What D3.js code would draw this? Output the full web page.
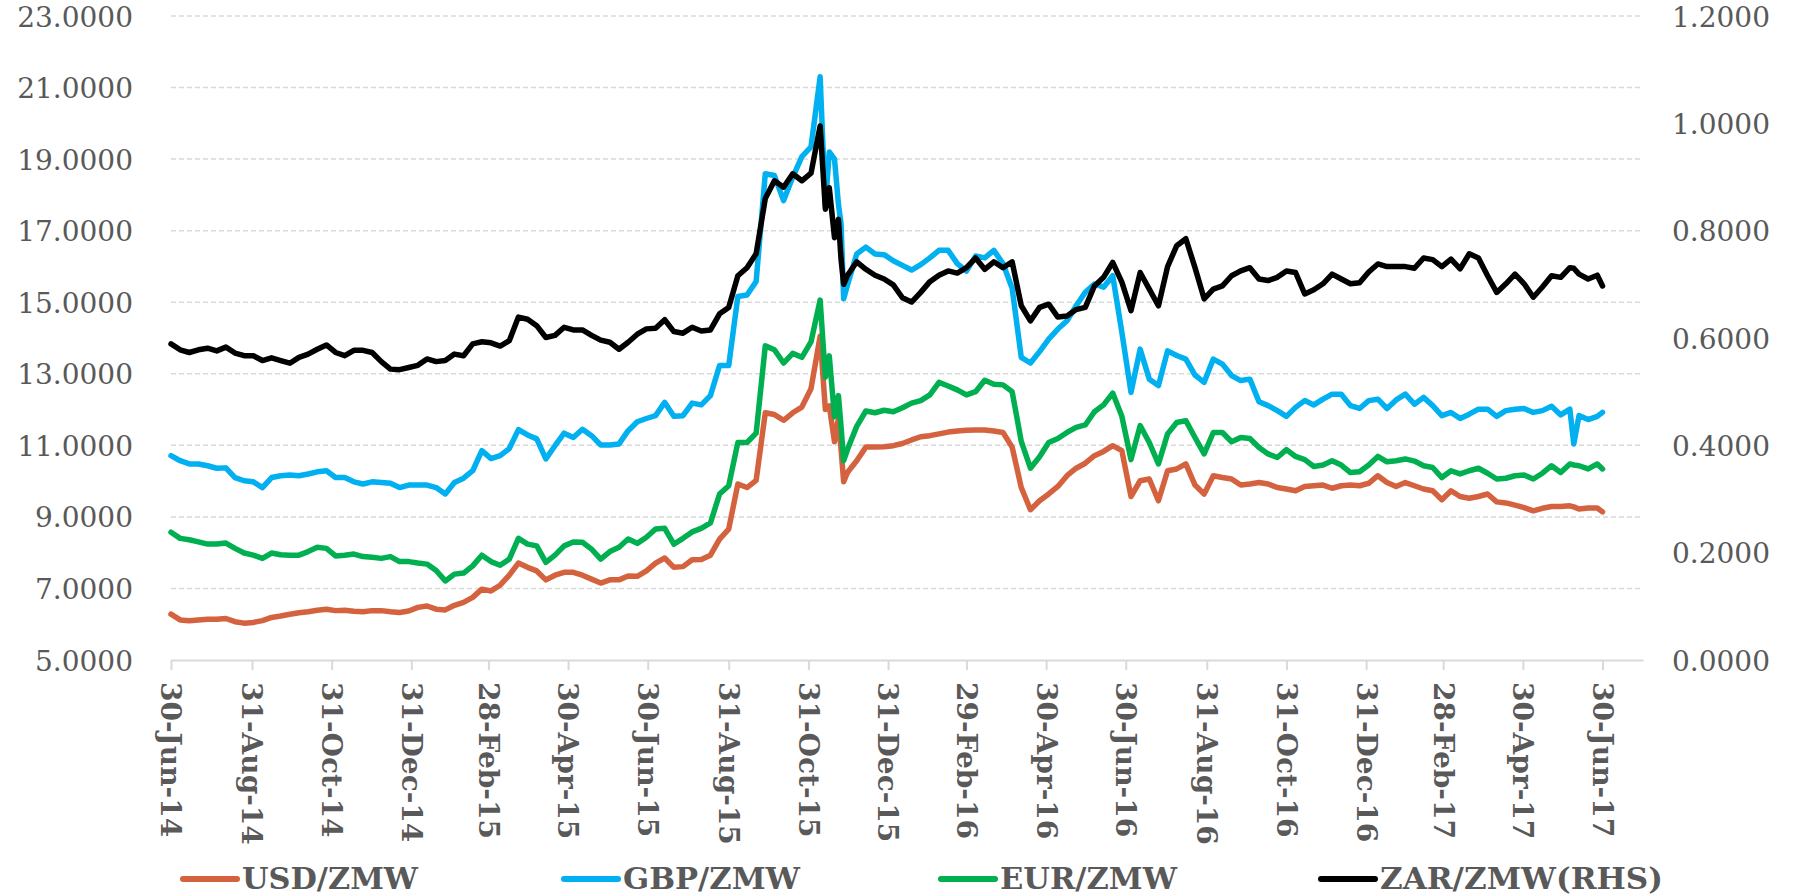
<!DOCTYPE html>
<html lang="en">

<head>
    <meta charset="UTF-8">
    <title>ZMW exchange rates</title>
    <script src="https://d3js.org/d3.v7.min.js"></script>
    <style>
        body { margin: 0; background: #fff; }
    </style>
</head>

<body>
    <script>
        // Dates of the readings (weekly, plus a few extra around the spikes)
        var dates = [
            "2014-06-30", "2014-07-07", "2014-07-14", "2014-07-21", "2014-07-28", "2014-08-04", "2014-08-11", "2014-08-18", "2014-08-25",
            "2014-09-01", "2014-09-08", "2014-09-15", "2014-09-22", "2014-09-29", "2014-10-06", "2014-10-13", "2014-10-20", "2014-10-27",
            "2014-11-03", "2014-11-10", "2014-11-17", "2014-11-24", "2014-12-01", "2014-12-08", "2014-12-15", "2014-12-22", "2014-12-29",
            "2015-01-05", "2015-01-12", "2015-01-19", "2015-01-26", "2015-02-02", "2015-02-09", "2015-02-16", "2015-02-23",
            "2015-03-02", "2015-03-09", "2015-03-16", "2015-03-23", "2015-03-30", "2015-04-06", "2015-04-13", "2015-04-20", "2015-04-27",
            "2015-05-04", "2015-05-11", "2015-05-18", "2015-05-25", "2015-06-01", "2015-06-08", "2015-06-15", "2015-06-22", "2015-06-29",
            "2015-07-06", "2015-07-13", "2015-07-20", "2015-07-27", "2015-08-03", "2015-08-10", "2015-08-17", "2015-08-24", "2015-08-31",
            "2015-09-07", "2015-09-14", "2015-09-21", "2015-09-28", "2015-10-05", "2015-10-12", "2015-10-19", "2015-10-26",
            "2015-11-02", "2015-11-09", "2015-11-13", "2015-11-16", "2015-11-20", "2015-11-23", "2015-11-25", "2015-11-27", "2015-11-30",
            "2015-12-07", "2015-12-14", "2015-12-21", "2015-12-28",
            "2016-01-04", "2016-01-11", "2016-01-18", "2016-01-25", "2016-02-01", "2016-02-08", "2016-02-15", "2016-02-22", "2016-02-29",
            "2016-03-07", "2016-03-14", "2016-03-21", "2016-03-28", "2016-04-04", "2016-04-11", "2016-04-18", "2016-04-25",
            "2016-05-02", "2016-05-09", "2016-05-16", "2016-05-23", "2016-05-30", "2016-06-06", "2016-06-13", "2016-06-20", "2016-06-27",
            "2016-07-04", "2016-07-11", "2016-07-18", "2016-07-25", "2016-08-01", "2016-08-08", "2016-08-15", "2016-08-22", "2016-08-29",
            "2016-09-05", "2016-09-12", "2016-09-19", "2016-09-26", "2016-10-03", "2016-10-10", "2016-10-17", "2016-10-24", "2016-10-31",
            "2016-11-07", "2016-11-14", "2016-11-21", "2016-11-28", "2016-12-05", "2016-12-12", "2016-12-19", "2016-12-26",
            "2017-01-02", "2017-01-09", "2017-01-16", "2017-01-23", "2017-01-30", "2017-02-06", "2017-02-13", "2017-02-20", "2017-02-27",
            "2017-03-06", "2017-03-13", "2017-03-20", "2017-03-27", "2017-04-03", "2017-04-10", "2017-04-17", "2017-04-24",
            "2017-05-01", "2017-05-08", "2017-05-15", "2017-05-22", "2017-05-29", "2017-06-05", "2017-06-08", "2017-06-12", "2017-06-19",
            "2017-06-26", "2017-06-30"
        ];

        // USD/ZMW (left axis)
        var usd = [
            6.28, 6.12, 6.10, 6.12, 6.14, 6.14, 6.16, 6.07, 6.03, 6.05, 6.10, 6.19, 6.23, 6.28, 6.32, 6.35, 6.39, 6.42, 6.38, 6.39,
            6.36, 6.35, 6.38, 6.38, 6.35, 6.33, 6.37, 6.47, 6.51, 6.42, 6.40, 6.53, 6.61,
            6.75, 6.98, 6.93, 7.09, 7.37, 7.71, 7.59, 7.49, 7.24, 7.37, 7.45, 7.45, 7.37, 7.26, 7.15, 7.24, 7.24, 7.35, 7.34, 7.49,
            7.71, 7.85, 7.59, 7.61, 7.80, 7.81, 7.93, 8.38, 8.66, 9.92, 9.82, 10.02,
            11.91, 11.86, 11.70, 11.91, 12.07, 12.58, 14.05,
            12.0, 12.1, 11.1, 11.75, 10.9, 9.98, 10.25,
            10.57, 10.95, 10.95, 10.96, 10.99, 11.05, 11.15, 11.24, 11.27, 11.32, 11.37, 11.40, 11.42, 11.43, 11.43, 11.40, 11.36,
            10.95, 9.82, 9.20, 9.45,
            9.64, 9.85, 10.15, 10.36, 10.50, 10.71, 10.83, 10.99, 10.85, 9.57, 10.01, 10.06, 9.45, 10.29, 10.34, 10.48, 9.89, 9.64,
            10.15, 10.10, 10.06, 9.89, 9.92, 9.96, 9.92, 9.82, 9.78, 9.73, 9.85, 9.87, 9.89, 9.80,
            9.87, 9.89, 9.87, 9.94, 10.15, 9.96, 9.85, 9.96, 9.87, 9.78, 9.73, 9.48, 9.73, 9.57, 9.52, 9.57, 9.64, 9.42, 9.39, 9.33,
            9.26, 9.17, 9.24, 9.29, 9.29, 9.31,
            9.28, 9.22, 9.25, 9.25, 9.14
        ];

        // GBP/ZMW (left axis)
        var gbp = [
            10.71, 10.57, 10.48, 10.48, 10.43, 10.36, 10.37, 10.10, 10.01, 9.98, 9.82, 10.10, 10.15, 10.17, 10.15, 10.20, 10.26, 10.29,
            10.10, 10.10, 9.98, 9.92, 9.98, 9.96, 9.94, 9.82, 9.89, 9.89, 9.89, 9.82, 9.64, 9.96, 10.08,
            10.29, 10.85, 10.63, 10.71, 10.91, 11.44, 11.29, 11.18, 10.62, 10.99, 11.34, 11.22, 11.45, 11.27, 11.01, 11.01, 11.04,
            11.41, 11.66, 11.75, 11.83, 12.20, 11.81, 11.83, 12.18, 12.13, 12.39, 13.23, 13.23, 15.16, 15.20, 15.58,
            18.59, 18.54, 17.84, 18.49, 19.07, 19.34, 21.30,
            17.7, 19.2, 19.0, 17.74, 17.2, 15.1, 15.49,
            16.35, 16.54, 16.35, 16.33, 16.16, 16.03, 15.90, 16.05, 16.24, 16.45, 16.45, 16.08, 15.87, 16.29, 16.24, 16.45, 16.08,
            15.39, 13.46, 13.30, 13.62,
            13.97, 14.25, 14.48, 14.90, 15.28, 15.51, 15.42, 15.74, 14.16, 12.48, 13.69, 12.85, 12.67, 13.64, 13.51, 13.41, 12.96,
            12.76, 13.41, 13.27, 12.95, 12.81, 12.85, 12.22, 12.11, 11.97, 11.81, 12.06, 12.25, 12.13, 12.29, 12.43,
            12.43, 12.11, 12.03, 12.25, 12.29, 12.03, 12.27, 12.43, 12.15, 12.34, 12.11, 11.83, 11.92, 11.75, 11.87, 12.01, 12.01,
            11.81, 11.97, 12.01, 12.03, 11.92, 11.97, 12.09, 11.85, 12.01,
            11.04, 11.83, 11.72, 11.81, 11.92
        ];

        // EUR/ZMW (left axis)
        var eur = [
            8.57, 8.40, 8.36, 8.30, 8.24, 8.24, 8.27, 8.12, 7.99, 7.93, 7.84, 7.99, 7.94, 7.93, 7.93, 8.03, 8.15, 8.12, 7.91, 7.93,
            7.96, 7.89, 7.87, 7.84, 7.89, 7.75, 7.75, 7.71, 7.68, 7.50, 7.21, 7.40, 7.43,
            7.63, 7.93, 7.75, 7.65, 7.82, 8.40, 8.24, 8.19, 7.73, 7.93, 8.19, 8.30, 8.29, 8.10, 7.82, 8.03, 8.15, 8.38, 8.26, 8.43,
            8.66, 8.68, 8.24, 8.40, 8.58, 8.68, 8.83, 9.64, 9.87, 11.08, 11.08, 11.34,
            13.78, 13.67, 13.30, 13.57, 13.46, 13.89, 15.06,
            12.9, 13.5, 11.8, 12.39, 11.53, 10.57, 10.89,
            11.53, 11.96, 11.91, 11.98, 11.94, 12.05, 12.18, 12.25, 12.41, 12.76, 12.66, 12.55, 12.41, 12.50, 12.82, 12.71, 12.69,
            12.50, 11.11, 10.36, 10.68,
            11.08, 11.19, 11.36, 11.50, 11.57, 11.94, 12.13, 12.46, 11.81, 10.60, 11.55, 11.08, 10.48, 11.32, 11.64, 11.69, 11.22,
            10.76, 11.36, 11.36, 11.10, 11.22, 11.19, 10.94, 10.76, 10.66, 10.88, 10.69, 10.60, 10.41, 10.45, 10.57,
            10.45, 10.24, 10.26, 10.45, 10.69, 10.54, 10.57, 10.62, 10.56, 10.43, 10.38, 10.10, 10.29, 10.20, 10.29, 10.36, 10.22,
            10.06, 10.08, 10.15, 10.17, 10.06, 10.22, 10.43, 10.24, 10.48,
            10.45, 10.43, 10.34, 10.48, 10.34
        ];

        // ZAR/ZMW (right axis)
        var zar = [
            0.589, 0.578, 0.573, 0.578, 0.581, 0.576, 0.583, 0.572, 0.567, 0.567, 0.558, 0.563, 0.558, 0.553, 0.564, 0.570, 0.579,
            0.587, 0.573, 0.567, 0.577, 0.577, 0.573, 0.556, 0.542, 0.541, 0.545, 0.549, 0.561, 0.556, 0.558, 0.570, 0.567,
            0.589, 0.593, 0.591, 0.585, 0.595, 0.639, 0.635, 0.623, 0.601, 0.605, 0.620, 0.615, 0.615, 0.605, 0.596, 0.592, 0.579,
            0.592, 0.607, 0.617, 0.618, 0.634, 0.612, 0.609, 0.620, 0.613, 0.615, 0.645, 0.657, 0.716, 0.731, 0.757,
            0.860, 0.893, 0.881, 0.906, 0.893, 0.907, 0.995,
            0.840, 0.880, 0.787, 0.821, 0.747, 0.700, 0.717,
            0.742, 0.728, 0.717, 0.710, 0.699, 0.675, 0.667, 0.685, 0.705, 0.717, 0.725, 0.721, 0.731, 0.749, 0.728, 0.742, 0.731,
            0.742, 0.660, 0.632, 0.657,
            0.663, 0.639, 0.641, 0.653, 0.657, 0.697, 0.713, 0.741, 0.704, 0.651, 0.722, 0.691, 0.660, 0.733, 0.772, 0.785, 0.731,
            0.673, 0.691, 0.697, 0.716, 0.725, 0.731, 0.710, 0.707, 0.713, 0.725, 0.722, 0.682, 0.690, 0.701, 0.719,
            0.710, 0.701, 0.703, 0.723, 0.738, 0.733, 0.733, 0.733, 0.730, 0.749, 0.746, 0.733, 0.747, 0.729, 0.757, 0.749, 0.716,
            0.685, 0.701, 0.719, 0.701, 0.676, 0.695, 0.716, 0.713, 0.731,
            0.730, 0.719, 0.710, 0.717, 0.697
        ];

        // Axis ticks
        var xTickLabels = ["30-Jun-14", "31-Aug-14", "31-Oct-14", "31-Dec-14", "28-Feb-15", "30-Apr-15", "30-Jun-15",
            "31-Aug-15", "31-Oct-15", "31-Dec-15", "29-Feb-16", "30-Apr-16", "30-Jun-16", "31-Aug-16", "31-Oct-16",
            "31-Dec-16", "28-Feb-17", "30-Apr-17", "30-Jun-17"];
        var leftTicks = [5, 7, 9, 11, 13, 15, 17, 19, 21, 23];
        var rightTicks = [0, 0.2, 0.4, 0.6, 0.8, 1.0, 1.2];
        var xDomain = ["2014-06-30", "2017-07-31"];

        var seriesNames = ["USD/ZMW", "GBP/ZMW", "EUR/ZMW", "ZAR/ZMW(RHS)"];
        var seriesColors = ["#D4623F", "#00B0F0", "#00B050", "#000000"];

        // Chart settings
        var width = 1793, height = 896;
        var plot = { left: 171, right: 1643, top: 16, bottom: 660 };
        var textColor = "#595959";
        var gridColor = "#D9D9D9";

        var parseDate = d3.timeParse("%Y-%m-%d");
        var parseTick = d3.timeParse("%d-%b-%y");

        var svg = d3.select("body").append("svg")
            .attr("width", width)
            .attr("height", height);

        var x = d3.scaleTime()
            .domain(xDomain.map(parseDate))
            .range([plot.left, plot.right]);

        var yLeft = d3.scaleLinear()
            .domain([5, 23])
            .range([plot.bottom, plot.top]);

        var yRight = d3.scaleLinear()
            .domain([0, 1.2])
            .range([plot.bottom, plot.top]);

        // Dashed gridlines on the left axis values
        svg.append("g")
            .selectAll("line")
            .data(leftTicks.filter(function (d) { return d > 5; }))
            .enter().append("line")
            .attr("x1", plot.left)
            .attr("x2", plot.right)
            .attr("y1", function (d) { return yLeft(d); })
            .attr("y2", function (d) { return yLeft(d); })
            .attr("stroke", gridColor)
            .attr("stroke-width", 1.5)
            .attr("stroke-dasharray", "5,3");

        // Left axis labels
        var leftAxis = svg.append("g")
            .attr("transform", "translate(" + (plot.left - 38) + ",0)")
            .call(d3.axisLeft(yLeft).tickValues(leftTicks).tickSize(0).tickFormat(d3.format(".4f")));
        leftAxis.select(".domain").remove();
        leftAxis.selectAll("text")
            .attr("x", 0)
            .attr("dy", "0.36em")
            .style("font-family", "DejaVu Serif")
            .style("font-size", "28px")
            .attr("fill", textColor);

        // Right axis labels
        var rightAxis = svg.append("g")
            .attr("transform", "translate(" + (plot.right + 29) + ",0)")
            .call(d3.axisRight(yRight).tickValues(rightTicks).tickSize(0).tickFormat(d3.format(".4f")));
        rightAxis.select(".domain").remove();
        rightAxis.selectAll("text")
            .attr("x", 0)
            .attr("dy", "0.36em")
            .style("font-family", "DejaVu Serif")
            .style("font-size", "28px")
            .attr("fill", textColor);

        // X axis with rotated date labels
        var xAxis = svg.append("g")
            .attr("transform", "translate(0," + plot.bottom + ")")
            .call(d3.axisBottom(x)
                .tickValues(xTickLabels.map(parseTick))
                .tickSize(10)
                .tickSizeOuter(0)
                .tickFormat(d3.timeFormat("%d-%b-%y")));
        xAxis.select(".domain")
            .attr("stroke", gridColor)
            .attr("stroke-width", 2);
        xAxis.selectAll(".tick line")
            .attr("stroke", gridColor)
            .attr("stroke-width", 2);
        xAxis.selectAll("text")
            .attr("y", 0)
            .attr("x", 0)
            .attr("dy", "0.36em")
            .attr("transform", "translate(0,22) rotate(90)")
            .attr("text-anchor", "start")
            .style("font-family", "DejaVu Serif")
            .style("font-weight", "bold")
            .style("font-size", "28px")
            .attr("fill", textColor);

        // Lines
        var rows = dates.map(function (d, i) {
            return { date: parseDate(d), usd: usd[i], gbp: gbp[i], eur: eur[i], zar: zar[i] };
        });
        var keys = ["usd", "gbp", "eur", "zar"];

        keys.forEach(function (k, i) {
            var yScale = (k === "zar") ? yRight : yLeft;
            var line = d3.line()
                .x(function (d) { return x(d.date); })
                .y(function (d) { return yScale(d[k]); });
            svg.append("path")
                .datum(rows)
                .attr("d", line)
                .attr("fill", "none")
                .attr("stroke", seriesColors[i])
                .attr("stroke-width", 5.5)
                .attr("stroke-linejoin", "round")
                .attr("stroke-linecap", "round");
        });

        // Legend
        var legendX = [183, 564, 941, 1321];
        var legendTextWidth = [176, 177, 177, 283];
        var legend = svg.append("g");
        seriesNames.forEach(function (name, i) {
            legend.append("line")
                .attr("x1", legendX[i])
                .attr("x2", legendX[i] + 54)
                .attr("y1", 879)
                .attr("y2", 879)
                .attr("stroke", seriesColors[i])
                .attr("stroke-width", 6)
                .attr("stroke-linecap", "round");
            legend.append("text")
                .attr("x", legendX[i] + 59)
                .attr("y", 889)
                .attr("textLength", legendTextWidth[i])
                .attr("lengthAdjust", "spacingAndGlyphs")
                .style("font-family", "DejaVu Serif")
                .style("font-weight", "bold")
                .style("font-size", "29px")
                .attr("fill", textColor)
                .text(name);
        });
    </script>
</body>

</html>
